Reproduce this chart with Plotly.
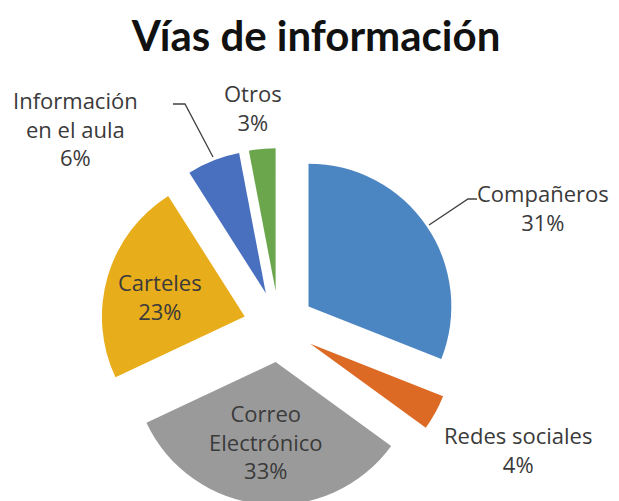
import plotly.graph_objects as go

labels = ["Compañeros", "Redes sociales", "Correo<br>Electrónico", "Carteles",
          "Información<br>en el aula", "Otros"]
values = [31, 4, 33, 23, 6, 3]
colors = ["#4C86C2", "#DC6A24", "#9A9A9A", "#E8AD1A", "#496FBF", "#6BA64D"]

# label centres in pixels (x, y from top)
label_pos = [(535, 199), (510, 441), (258, 433), (152, 288), (67, 121), (245, 100)]

W, H = 619, 501

fig = go.Figure(
    go.Pie(
        labels=labels,
        values=values,
        sort=False,
        direction="clockwise",
        rotation=0,
        pull=[0.25] * len(values),
        marker=dict(colors=colors, line=dict(width=0)),
        textinfo="none",
        hoverinfo="label+percent",
        domain=dict(x=[90 / W, 452 / W], y=[4 / H, 1 - 140 / H]),
    )
)

total = sum(values)
for lab, val, (px_, py_) in zip(labels, values, label_pos):
    fig.add_annotation(
        x=px_ / W, y=1 - py_ / H, xref="paper", yref="paper",
        text=f"{lab}<br>{round(100 * val / total)}%",
        showarrow=False, xanchor="center", yanchor="middle",
        font=dict(family="Open Sans", size=22, color="#3a3a3a"),
    )

# leader lines
lines = [
    [(421, 217), (460, 191), (469, 191)],
    [(165, 96), (177, 96), (205, 149)],
]
for pts in lines:
    path = "M " + " L ".join(f"{x / W},{1 - y / H}" for x, y in pts)
    fig.add_shape(type="path", path=path, xref="paper", yref="paper",
                  line=dict(color="#404040", width=1.3))

fig.update_layout(
    width=W, height=H,
    margin=dict(l=0, r=0, t=0, b=0),
    paper_bgcolor="white",
    showlegend=False,
    title=dict(text="<b>Vías de información</b>", x=308 / W, xanchor="center",
               y=1 - 28 / H, yanchor="middle",
               font=dict(family="Lato", size=42, color="#111111")),
)

fig.write_html("out.html")
